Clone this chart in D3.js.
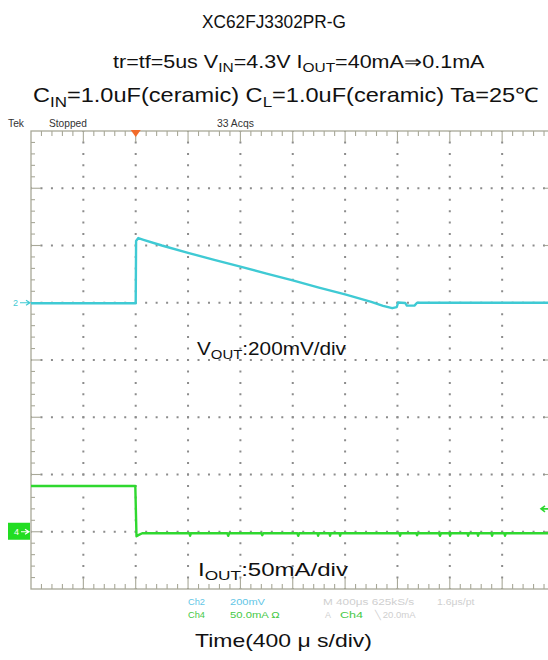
<!DOCTYPE html>
<html><head><meta charset="utf-8">
<script src="https://cdn.jsdelivr.net/npm/d3@7"></script>
<style>body{margin:0;background:#fff}svg{display:block}</style>
</head><body><svg id="c" width="548" height="660"></svg>
<script>
// ---- data ----
const title = "XC62FJ3302PR-G";
const line2 = [["tr=tf=5us V",0],["IN",1],["=4.3V I",0],["OUT",1],["=40mA\u21D20.1mA",0]];
const line3 = [["C",0],["IN",1],["=1.0uF(ceramic) C",0],["L",1],["=1.0uF(ceramic) Ta=25\u2103",0]];
const voutLabel = [["V",0],["OUT",1],[":200mV/div",0]];
const ioutLabel = [["I",0],["OUT",1],[":50mA/div",0]];
const xLabel = "Time(400 \u03BC s/div)";
// time in microseconds (trigger at 0), 400 us/div
const timeDomain = [-800, 3200];
const timeTicks = [-400, 0, 400, 800, 1200, 1600, 2000, 2400, 2800];
// Ch2 Vout in mV relative to marker (200 mV/div)
const ch2Time = [-800, 0, 3, 20, 60, 200, 400, 600, 800, 1000, 1200, 1400, 1600, 1800, 1890, 1960, 1995, 2005, 2060, 2072, 2130, 2150, 3200];
const ch2Volt = [-2, -2, 216, 226, 220, 200, 174, 150, 126, 102, 78, 53, 29, 3, -11, -19, -15, 1, -1, -10, -10, 0, 0];
// Ch4 Iout in mA relative to marker (50 mA/div)
const ch4Time = [-800, -3, 6, 20, 50, 410, 416, 422, 700, 707, 714, 960, 967, 974, 1235, 1242, 1249, 1388, 1394, 1400, 1480, 1485, 1490, 1557, 1562, 1567, 2014, 2020, 2026, 2144, 2150, 2156, 2318, 2325, 2332, 2396, 2402, 2408, 2534, 2540, 2546, 2610, 2616, 2622, 2717, 2723, 2729, 2816, 2822, 2828, 3200];
const ch4Curr = [40, 40, -4, -3, -1.3, -1.3, -3.5, -1.3, -1.3, -3.5, -1.3, -1.3, -3, -1.3, -1.3, -3.5, -1.3, -1.3, -3.5, -1.3, -1.3, -3.5, -1.3, -1.3, -3.5, -1.3, -1.3, -3.5, -1.3, -1.3, -3, -1.3, -1.3, -3.5, -1.3, -1.3, -3.5, -1.3, -1.3, -3.5, -1.3, -1.3, -3.5, -1.3, -1.3, -3.5, -1.3, -1.3, -3.5, -1.3, -1.3];
const ch2Domain = [-1000, 600];
const ch2Ticks = [400, 200, 0, -200, -400, -600, -800];
const ch4Domain = [-50, 350];
const trigLevel = 20;
const readRow1 = [["Ch2","ch2"],["200mV","ch2"],["M 400\u03BCs 625kS/s","gray"],["1.6\u03BCs/pt","gray"]];
const readRow2 = [["Ch4","ch4"],["50.0mA \u03A9","ch4"],["A","gray"],["Ch4","ch4"],["\u2572 20.0mA","gray"]];

// ---- layout ----
const svg = d3.select("#c");
const L = 31, T = 131, divX = 52.35, divY = 57.25;
const R = L + 10*divX, B = T + 8*divY;
const x = d3.scaleLinear().domain(timeDomain).range([L, R]);
const y2 = d3.scaleLinear().domain(ch2Domain).range([B, T]);
const y4 = d3.scaleLinear().domain(ch4Domain).range([B, T]);
const FONT = "'Liberation Sans', Arial, sans-serif";
const CYAN = "#3fcad4", GREEN = "#2fd82f";

function rich(parts, x0, w, yb, fs, color) {
  const t = svg.append("text").attr("x",0).attr("y",yb).attr("font-family",FONT)
    .attr("font-size",fs).attr("fill",color||"#111");
  let prevSub = false;
  parts.forEach(([s,sub]) => {
    const ts = t.append("tspan").text(s);
    if (sub && !prevSub) ts.attr("dy", fs*0.25).attr("font-size", fs*0.72);
    else if (!sub && prevSub) ts.attr("dy", -fs*0.25);
    prevSub = !!sub;
  });
  const bw = t.node().getBBox().width;
  t.attr("transform", `translate(${x0},0) scale(${w/bw},1)`);
  return t;
}

// ---- titles ----
rich([[title,0]], 202, 144, 28, 18);
rich(line2, 113, 371, 68, 18);
rich(line3, 33, 506, 102, 20);

// ---- scope header ----
rich([["Tek",0]], 8, 17, 127, 10, "#333");
rich([["Stopped",0]], 49, 38, 127, 10, "#333");
rich([["33 Acqs",0]], 217, 37, 127, 10, "#333");

// ---- grid (dotted lines) ----
const g = svg.append("g");
const GC = "#8c8c8c";
const sx = divX/5, sy = divY/5;
g.selectAll("line.vg").data(timeTicks).join("line").attr("class","vg")
  .attr("x1",d=>x(d)).attr("x2",d=>x(d)).attr("y1",T).attr("y2",B)
  .attr("stroke",GC).attr("stroke-width",2)
  .attr("stroke-dasharray",`2 ${sy-2}`).attr("stroke-dashoffset",1);
g.selectAll("line.hg").data(ch2Ticks).join("line").attr("class","hg")
  .attr("x1",L).attr("x2",R).attr("y1",d=>y2(d)).attr("y2",d=>y2(d))
  .attr("stroke",GC).attr("stroke-width",2)
  .attr("stroke-dasharray",`2 ${sx-2}`).attr("stroke-dashoffset",1);
// border
const BC = "#a8a898";
g.append("rect").attr("x",L).attr("y",T).attr("width",R-L).attr("height",B-T)
  .attr("fill","none").attr("stroke",BC).attr("stroke-width",1.3);
for (let i=1;i<50;i++){
  const xx = L+i*sx, len = (i%5===0)?11:5;
  g.append("line").attr("x1",xx).attr("x2",xx).attr("y1",T).attr("y2",T+len).attr("stroke",BC).attr("stroke-width",1.1);
  g.append("line").attr("x1",xx).attr("x2",xx).attr("y1",B).attr("y2",B-len).attr("stroke",BC).attr("stroke-width",1.1);
}
for (let j=1;j<40;j++){
  const yy = T+j*sy, len = (j%5===0)?10:4;
  g.append("line").attr("x1",L).attr("x2",L+len).attr("y1",yy).attr("y2",yy).attr("stroke",BC).attr("stroke-width",1.1);
  g.append("line").attr("x1",R).attr("x2",R-len).attr("y1",yy).attr("y2",yy).attr("stroke",BC).attr("stroke-width",1.1);
}

// trigger marker
svg.append("path").attr("d",`M${x(0)-5},${T-1}L${x(0)+5},${T-1}L${x(0)},${T+6}Z`).attr("fill","#f26b2a");

// ---- traces ----
const line2gen = d3.line().x(d=>x(d[0])).y(d=>y2(d[1]));
svg.append("path").attr("d", line2gen(ch2Time.map((t,i)=>[t,ch2Volt[i]])))
  .attr("fill","none").attr("stroke",CYAN).attr("stroke-width",2.4).attr("stroke-linejoin","round");
const line4gen = d3.line().x(d=>x(d[0])).y(d=>y4(d[1]));
svg.append("path").attr("d", line4gen(ch4Time.map((t,i)=>[t,ch4Curr[i]])))
  .attr("fill","none").attr("stroke",GREEN).attr("stroke-width",2.4).attr("stroke-linejoin","round");

// ---- channel markers ----
const y2z = y2(0), y4z = y4(0);
svg.append("text").attr("x",13).attr("y",y2z+3.5).attr("font-family",FONT).attr("font-size",9).attr("fill",CYAN).text("2");
svg.append("path").attr("d",`M20,${y2z}L29,${y2z}M26,${y2z-2.5}L30,${y2z}L26,${y2z+2.5}`).attr("stroke",CYAN).attr("stroke-width",1.2).attr("fill","none");
svg.append("rect").attr("x",8).attr("y",y4z-9).attr("width",22).attr("height",17).attr("fill","#22dd22");
svg.append("text").attr("x",14).attr("y",y4z+3.5).attr("font-family",FONT).attr("font-size",9).attr("fill","#fff").text("4");
svg.append("path").attr("d",`M21,${y4z}L28,${y4z}M25,${y4z-2.5}L29,${y4z}L25,${y4z+2.5}`).attr("stroke","#fff").attr("stroke-width",1.2).attr("fill","none");
const yt = y4(trigLevel);
svg.append("path").attr("d",`M542,${yt}L548,${yt}M545,${yt-3}L541,${yt}L545,${yt+3}`).attr("stroke",GREEN).attr("stroke-width",1.6).attr("fill","none");

// ---- channel labels ----
rich(voutLabel, 197, 149, 355, 18);
rich(ioutLabel, 198, 150, 576, 18);

// ---- readouts ----
const col = {ch2:"#62c6e6", ch4:"#45c845", gray:"#cfcfcf"};
const r1x = [[188,17],[230,35],[323,92],[437,38]];
const r2x = [[188,17],[230,50],[325,6],[340,23],[375,42]];
readRow1.forEach((d,i)=>rich([[d[0],0]], r1x[i][0], r1x[i][1], 605, 9, col[d[1]]));
readRow2.forEach((d,i)=>rich([[d[0],0]], r2x[i][0], r2x[i][1], 618, 9, col[d[1]]));

// ---- x label ----
rich([[xLabel,0]], 195, 177, 647, 18);
</script></body></html>
